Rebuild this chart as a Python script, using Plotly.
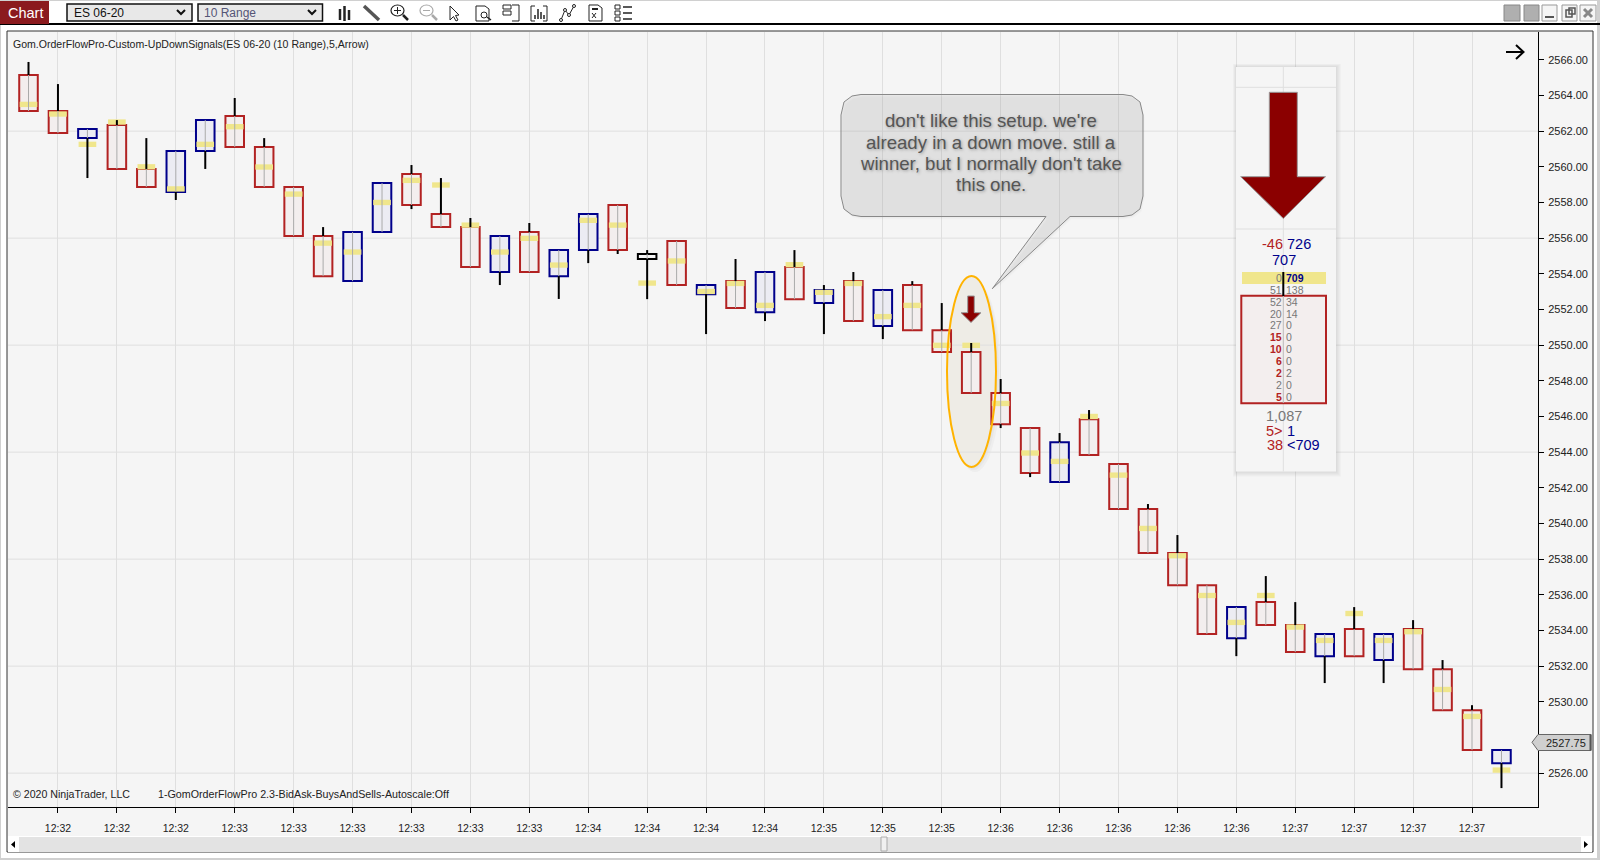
import plotly.graph_objects as go

# candles
highs = [2565.88, 2564.64, 2562.12, 2562.62, 2561.61, 2560.89, 2562.62, 2563.86, 2561.61, 2558.87,
         2556.62, 2556.34, 2559.09, 2560.10, 2559.37, 2557.13, 2556.12, 2556.85, 2555.33, 2557.35,
         2557.86, 2555.33, 2555.84, 2553.37, 2554.83, 2554.10, 2555.33, 2553.37, 2554.10, 2553.09,
         2553.59, 2552.36, 2550.12, 2548.10, 2545.35, 2545.07, 2546.36, 2543.33, 2541.09, 2539.35,
         2536.54, 2535.31, 2537.05, 2535.59, 2533.80, 2535.31, 2533.80, 2534.58, 2532.34, 2529.81,
         2527.29]
body_tops = [2565.15, 2563.13, 2562.12, 2562.34, 2559.88, 2560.89, 2562.62, 2562.85, 2561.11, 2558.87,
             2556.12, 2556.34, 2559.09, 2559.60, 2557.35, 2556.62, 2556.12, 2556.34, 2555.33, 2557.35,
             2557.86, 2555.11, 2555.84, 2553.37, 2553.59, 2554.10, 2554.38, 2553.09, 2553.59, 2553.09,
             2553.37, 2550.84, 2549.61, 2547.31, 2545.35, 2544.56, 2545.85, 2543.33, 2540.81, 2538.34,
             2536.54, 2535.31, 2535.59, 2534.30, 2533.80, 2534.08, 2533.80, 2534.08, 2531.83, 2529.53,
             2527.29]
body_bots = [2563.13, 2561.89, 2561.61, 2559.88, 2558.87, 2558.59, 2560.89, 2561.11, 2558.87, 2556.12,
             2553.87, 2553.59, 2556.34, 2557.86, 2556.62, 2554.38, 2554.10, 2554.10, 2553.87, 2555.33,
             2555.33, 2554.83, 2553.37, 2552.86, 2552.08, 2551.85, 2552.58, 2552.36, 2551.35, 2551.07,
             2550.84, 2549.61, 2547.31, 2545.57, 2542.83, 2542.32, 2543.84, 2540.81, 2538.34, 2536.54,
             2533.80, 2533.57, 2534.30, 2532.79, 2532.56, 2532.56, 2532.34, 2531.83, 2529.53, 2527.29,
             2526.56]
lows = [2563.13, 2561.89, 2559.37, 2559.88, 2558.87, 2558.14, 2559.88, 2561.11, 2558.87, 2556.12,
        2553.87, 2553.59, 2556.34, 2557.63, 2556.62, 2554.38, 2553.37, 2554.10, 2552.59, 2554.60,
        2555.11, 2552.58, 2553.37, 2550.62, 2552.08, 2551.35, 2552.58, 2550.62, 2551.35, 2550.34,
        2550.84, 2549.61, 2547.31, 2545.35, 2542.60, 2542.32, 2543.84, 2540.81, 2538.34, 2536.54,
        2533.80, 2532.56, 2534.30, 2532.79, 2531.05, 2532.56, 2531.05, 2531.83, 2529.53, 2527.29,
        2525.16]
pocs = [2563.50, 2562.96, 2561.26, 2562.51, 2560.00, 2558.76, 2561.26, 2562.25, 2559.99, 2558.47,
        2555.72, 2555.22, 2558.00, 2559.24, 2558.98, 2556.73, 2555.22, 2555.99, 2554.49, 2557.00,
        2556.73, 2553.48, 2554.72, 2553.01, 2553.46, 2552.23, 2554.51, 2552.96, 2553.46, 2551.60,
        2552.23, 2549.99, 2549.99, 2546.73, 2543.95, 2543.48, 2546.00, 2542.71, 2539.72, 2538.19,
        2535.96, 2534.45, 2535.96, 2534.19, 2533.44, 2534.95, 2533.44, 2533.93, 2530.69, 2529.18,
        2526.17]
# d = red, u = blue, f = black
directions = ["d", "d", "u", "d", "d", "u", "u", "d", "d", "d",
              "d", "u", "u", "d", "d", "d", "u", "d", "u", "u",
              "d", "f", "d", "u", "d", "u", "d", "u", "d", "u",
              "d", "d", "d", "d", "d", "u", "d", "d", "d", "d",
              "d", "u", "d", "d", "u", "d", "u", "d", "d", "d",
              "u"]
time_labels = ["12:32"] * 3 + ["12:33"] * 6 + ["12:34"] * 4 + ["12:35"] * 3 + ["12:36"] * 5 + ["12:37"] * 4
grid_prices = [2526, 2532, 2538, 2544, 2550, 2556, 2562]
# 2528 sits behind the last price tag
price_ticks = [2526, 2530, 2532, 2534, 2536, 2538, 2540, 2542, 2544, 2546, 2548, 2550, 2552, 2554, 2556,
               2558, 2560, 2562, 2564, 2566]
last_price = 2527.75

bars = list(range(len(highs)))
tick_bars = bars[1::2]
stroke = {"d": "#B22222", "u": "#00008B", "f": "#000000"}
fill = {"d": "#F3EEEE", "u": "#ECECF3", "f": "#F5F5F5"}

PLOT_L, PLOT_R, PLOT_T, PLOT_B = 8, 1538, 32, 807


def X(p):
    return (p - PLOT_L) / (PLOT_R - PLOT_L)


def Y(p):
    return (PLOT_B - p) / (PLOT_B - PLOT_T)


shapes = []


def rect(x0, y0, x1, y1, fc="rgba(0,0,0,0)", lc="rgba(0,0,0,0)", w=1, layer="above"):
    shapes.append(dict(type="rect", xref="paper", yref="paper", x0=X(x0), x1=X(x1), y0=Y(y0), y1=Y(y1),
                       fillcolor=fc, line=dict(color=lc, width=w), layer=layer))


def seg(x0, y0, x1, y1, lc="#000000", w=1, layer="above"):
    shapes.append(dict(type="line", xref="paper", yref="paper", x0=X(x0), x1=X(x1), y0=Y(y0), y1=Y(y1),
                       line=dict(color=lc, width=w), layer=layer))


def ellipse(x0, y0, x1, y1, fc="rgba(0,0,0,0)", lc="rgba(0,0,0,0)", w=1, layer="above"):
    shapes.append(dict(type="circle", xref="paper", yref="paper", x0=X(x0), x1=X(x1), y0=Y(y0), y1=Y(y1),
                       fillcolor=fc, line=dict(color=lc, width=w), layer=layer))


def poly(points, fc="rgba(0,0,0,0)", lc="rgba(0,0,0,0)", w=1, close=True):
    d = "M" + " L".join(f"{X(a):.6f},{Y(b):.6f}" for a, b in points) + (" Z" if close else "")
    shapes.append(dict(type="path", xref="paper", yref="paper", path=d, fillcolor=fc, line=dict(color=lc, width=w)))


texts = []


def label(x, y, s, size=11, color="#222222", anchor="center", bold=False, shadow=None):
    f = dict(size=size, color=color, family="Liberation Sans")
    if shadow:
        f["shadow"] = shadow
    texts.append(dict(xref="paper", yref="paper", x=X(x), y=Y(y), text=f"<b>{s}</b>" if bold else s, showarrow=False,
                      xanchor=anchor, yanchor="middle", font=f, borderpad=0, borderwidth=0))


# window frame
rect(0, 0, 1600, 860, "#FFFFFF", layer="below")
rect(0, 0, 1600, 1, "#D0D0D0", layer="below")
rect(0, 858, 1600, 860, "#D0D0D0", layer="below")
rect(0, 0, 1, 860, "#D0D0D0", layer="below")
rect(1597, 0, 1600, 860, "#D0D0D0", layer="below")
rect(7, 31, 1593, 852, "#F5F5F5", "#333333", 1, layer="below")
seg(0, 24, 1600, 24, "#000000", 2, layer="below")

# toolbar
rect(0, 1, 49, 24, "#8B1A1E")
label(25, 13, "Chart", 14.5, "#FFFFFF")
rect(67, 4, 192, 21, "#E8E8E8", "#111111", 1.5)
label(73.5, 13, "ES 06-20", 12, "#111111", "left")
poly([(177, 10), (181, 14), (185, 10)], lc="#111111", w=2, close=False)
rect(198, 4, 322.5, 21, "#E8E8E8", "#111111", 1.5)
label(204.5, 13, "10 Range", 12, "#555577", "left")
poly([(308, 10), (312, 14), (316, 10)], lc="#111111", w=2, close=False)

seg(340, 9, 340, 20, "#222222", 2.5)
seg(344.5, 6, 344.5, 21, "#222222", 2.5)
seg(349, 10, 349, 20, "#222222", 2.5)
seg(364, 6, 379, 20, "#555555", 3.5)
ellipse(391, 5, 404, 16, lc="#222222", w=1.2)
seg(394, 10.5, 401, 10.5, "#222222")
seg(397.5, 7, 397.5, 14, "#222222")
seg(403, 15, 408, 20, "#222222", 2.5)
ellipse(420, 5, 433, 16, lc="#AAAAAA", w=1.2)
seg(423, 10.5, 430, 10.5, "#AAAAAA")
seg(432, 15, 437, 20, "#AAAAAA", 2.5)
poly([(450, 6), (450, 20), (453.5, 16.5), (456, 21), (458, 20), (455.5, 15.5), (459, 15)], lc="#222222")
poly([(476, 6), (485, 6), (489, 9), (489, 21), (476, 21)], lc="#222222")
ellipse(481, 12, 487, 18, "#FFFFFF", "#222222")
seg(487, 17, 491, 20, "#222222", 1.5)
rect(503, 5, 511, 9, lc="#222222")
rect(503, 11, 511, 15, lc="#222222")
poly([(512, 5), (519, 5), (519, 21), (512, 21)], lc="#222222", close=False)
poly([(535, 6), (531, 6), (531, 21), (535, 21)], lc="#222222", close=False)
poly([(543, 6), (547, 6), (547, 21), (543, 21)], lc="#222222", close=False)
for a, b in [(535, 15), (538, 9), (541, 12), (544, 15)]:
    seg(a, b, a, 19, "#222222", 1.5)
poly([(561, 20), (565, 10), (569, 15), (574, 6)], lc="#222222", close=False)
for a, b in [(561, 20), (565, 10), (569, 15), (574, 6)]:
    ellipse(a - 1.5, b - 1.5, a + 1.5, b + 1.5, "#FFFFFF", "#222222")
poly([(589, 5), (598, 5), (602, 8), (602, 21), (589, 21)], lc="#222222")
seg(592, 9, 598, 9, "#222222", 2)
seg(592, 13, 596, 18, "#222222")
seg(596, 13, 592, 18, "#222222")
for b in [7, 13, 19]:
    rect(615, b - 2, 620, b + 2, lc="#222222")
    seg(623, b, 632, b, "#222222", 1.5)

rect(1504, 5, 1520, 21, "#AFAFAF", "#888888")
rect(1524, 5, 1539, 21, "#AFAFAF", "#888888")
rect(1542, 5, 1557, 21, "#F5F5F5", "#999999")
seg(1545, 17, 1554, 17, "#555555", 2)
rect(1562, 5, 1577, 21, "#F5F5F5", "#999999")
rect(1566, 10, 1572, 17, lc="#555555", w=1.5)
rect(1569, 8, 1575, 14, lc="#555555", w=1.5)
rect(1580, 5, 1596, 21, "#F5F5F5", "#999999")
seg(1584, 9, 1592, 17, "#888888", 3)
seg(1592, 9, 1584, 17, "#888888", 3)

# scroll bar
rect(8, 836, 1592, 837, "#FFFFFF")
rect(8, 837, 1592, 852, "#E3E3E3")
rect(8, 837, 19, 852, "#FFFFFF")
rect(1581, 837, 1592, 852, "#FFFFFF")
poly([(15, 841), (11, 844.5), (15, 848)], "#000000")
poly([(1584, 841), (1588, 844.5), (1584, 848)], "#000000")
rect(881, 837, 887, 851, "#F0F0F0", "#AAAAAA")

# signal ellipse sits under the candles, only its outline on top
for off in [5, 3, 1.5]:
    ellipse(947 + off * 0.4, 276 + off, 996 + off, 467 + off, "rgba(120,120,120,0.05)", layer="below")
ellipse(947, 276, 996, 467, "#EEECE6", layer="below")

# horizontal grid every 6 points, ticks every 2
for p in grid_prices:
    shapes.append(dict(type="line", xref="paper", yref="y", x0=0, x1=1, y0=p, y1=p,
                       line=dict(color="#DFDFDF", width=1), layer="below"))

ellipse(947, 276, 996, 467, lc="#FFB300", w=2)
poly([(967.7, 296), (974.3, 296), (974.3, 312.7), (981, 312.7), (971, 322.5), (961, 312.7), (967.7, 312.7)],
     "#8B0000", "#999999", 1)

# last price tag
poly([(1532, 742.3), (1538, 734.5), (1591, 734.5), (1591, 750.5), (1538, 750.5)], "#CFCFCF", "#666666")
seg(1590.5, 734.5, 1590.5, 750.5, "#555555", 2)
label(1566, 742.5, f"{last_price:.2f}", 11)

# small arrow top right
seg(1506, 52, 1523, 52, "#000000", 2)
poly([(1516, 45), (1523.5, 52), (1516, 59)], lc="#000000", w=2, close=False)

# callout
bubble = [(861, 94.5), (1123, 94.5), (1132, 96), (1140, 102), (1143, 115), (1143, 196), (1140, 209), (1132, 215), (1123, 216.5),
          (1070, 216.5), (992.3, 288.7), (1046, 216.5),
          (861, 216.5), (852, 215), (844, 209), (841, 196), (841, 115), (844, 102), (852, 96)]
for off in [4, 3, 2]:
    poly([(a + off * 0.4, b + off * 0.7) for a, b in bubble], "rgba(120,120,120,0.025)")
poly(bubble, "rgba(180,180,180,0.22)", "#888888", 1)
callout_lines = ["don't like this setup. we're", "already in a down move. still a",
                 "winner, but I normally don't take", "this one."]
for i, line in enumerate(callout_lines):
    label(991, 120.7 + 21.4 * i, line, 18.6, "#555555", shadow="1px 1px 3px #999999")

# order flow panel
for off in [5, 4, 3, 2, 1]:
    rect(1236 - off * 0.6, 67 - off * 0.6, 1336 + off, 471.5 + off, "rgba(90,90,90,0.03)")
rect(1236, 67, 1336, 471.5, "#F5F5F5")
seg(1283.3, 67, 1283.3, 471.5, "#DFDFDF")
seg(1236, 87.3, 1336, 87.3, "#DFDFDF")
seg(1236, 229, 1336, 229, "#DFDFDF")
poly([(1269.3, 92.3), (1297.3, 92.3), (1297.3, 176.7), (1325.5, 176.7), (1283.3, 218.5), (1240.7, 176.7), (1269.3, 176.7)],
     "#8B0000", "#999999", 1)
label(1282.7, 244.5, "-46", 14.5, "#B22222", "right")
label(1286.5, 244.5, "726", 14.5, "#00008B", "left")
label(1284, 259.5, "707", 14.5, "#00008B")
rect(1242, 272, 1326, 284, "#F0E68C")
rect(1241.3, 295.7, 1326, 403.3, "#F3EEEE", "#B22222", 2)
seg(1283.3, 296, 1283.3, 403, "#BBBBBB")
seg(1283.3, 272, 1283.3, 296, "#000000", 2)

bid_rows = ["0", "51", "52", "20", "27", "15", "10", "6", "2", "2", "5"]
ask_rows = ["709", "138", "34", "14", "0", "0", "0", "0", "2", "0", "0"]
bid_hot = [False, False, False, False, False, True, True, True, True, False, True]
for i, (b, a, hot) in enumerate(zip(bid_rows, ask_rows, bid_hot)):
    y = 278 + 11.87 * i
    label(1281.7, y, b, 10.5, "#B22222" if hot else "#777777", "right", bold=hot)
    label(1286, y, a, 10.5, "#00008B" if i == 0 else "#777777", "left", bold=i == 0)

label(1284, 416, "1,087", 14.5, "#777777")
label(1282.7, 430.7, "5&gt;", 14.5, "#B22222", "right")
label(1287, 430.7, "1", 14.5, "#00008B", "left")
label(1282.7, 445, "38", 14.5, "#B22222", "right")
label(1287, 445, "&lt;709", 14.5, "#00008B", "left")

# chart labels
label(13.3, 43.5, "Gom.OrderFlowPro-Custom-UpDownSignals(ES 06-20 (10 Range),5,Arrow)", 10.55, "#222222", "left")
label(13, 794, "© 2020 NinjaTrader, LLC", 10.6, "#222222", "left")
label(158, 794, "1-GomOrderFlowPro 2.3-BidAsk-BuysAndSells-Autoscale:Off", 10.7, "#222222", "left")

wick_x, wick_y, mid_x, mid_y = [], [], [], []
for i in bars:
    if highs[i] > body_tops[i]:
        wick_x += [i, i, None]
        wick_y += [highs[i], body_tops[i], None]
    if lows[i] < body_bots[i]:
        wick_x += [i, i, None]
        wick_y += [body_bots[i], lows[i], None]
    mid_x += [i, i, None]
    mid_y += [body_tops[i], body_bots[i], None]

fig = go.Figure()
fig.add_trace(go.Bar(x=bars, base=body_bots, y=[t - b for t, b in zip(body_tops, body_bots)], width=0.63,
                     marker=dict(color=[fill[d] for d in directions],
                                 line=dict(color=[stroke[d] for d in directions], width=2))))
fig.add_trace(go.Bar(x=bars, base=[p - 0.15 for p in pocs], y=[0.3] * len(pocs), width=0.6,
                     marker=dict(color="#F0E68C", line=dict(width=0))))
fig.add_trace(go.Scatter(x=mid_x, y=mid_y, mode="lines", line=dict(color="#AAAAAA", width=1)))
fig.add_trace(go.Scatter(x=wick_x, y=wick_y, mode="lines", line=dict(color="#000000", width=2)))

fig.update_layout(
    width=1600, height=860, barmode="overlay", showlegend=False,
    margin=dict(l=PLOT_L, r=1600 - PLOT_R, t=PLOT_T, b=860 - PLOT_B, autoexpand=False),
    paper_bgcolor="#FFFFFF", plot_bgcolor="rgba(0,0,0,0)",
    font=dict(family="Liberation Sans", size=10.5, color="#222222"),
    shapes=shapes, annotations=texts,
    xaxis=dict(range=[-0.696, 51.24], tickmode="array", tickvals=tick_bars, ticktext=time_labels,
               showgrid=True, gridcolor="#DFDFDF", gridwidth=1, zeroline=False,
               showline=True, linecolor="#000000", linewidth=1, ticks="outside", ticklen=5,
               tickcolor="#000000", ticklabelstandoff=6),
    yaxis=dict(range=[2524.10, 2567.56], side="right", tickmode="array", tickvals=price_ticks,
               ticktext=[f"{p:.2f}" for p in price_ticks], tickfont=dict(size=11),
               showgrid=False, zeroline=False, showline=True, linecolor="#000000", linewidth=1,
               ticks="outside", ticklen=5, tickcolor="#000000", ticklabelstandoff=2),
)

fig.write_html("out.html", config=dict(displayModeBar=False),
               post_script="document.body.style.margin='0';document.body.style.overflow='hidden';")
